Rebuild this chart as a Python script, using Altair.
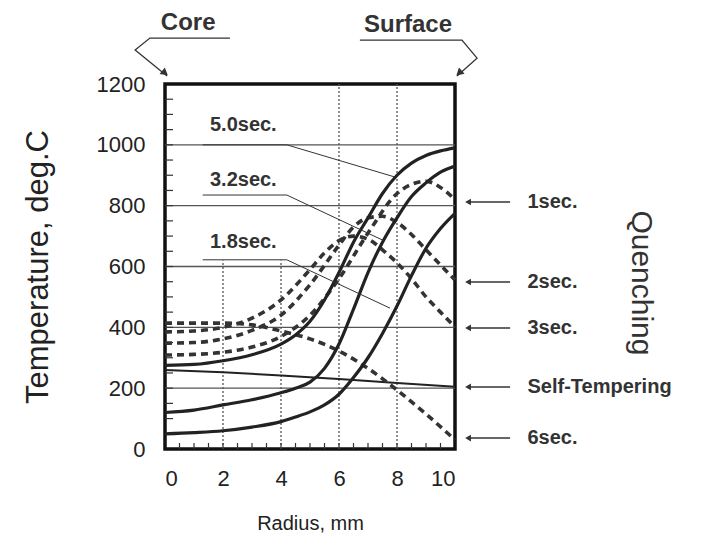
import altair as alt
import pandas as pd

# ---------------- data ----------------
# heating profiles (solid)
heat_x = [0, 1, 2, 3, 4, 4.5, 5, 5.5, 6, 6.5, 7, 7.5, 8, 8.5, 9, 9.5, 10]
heat_5_0 = [275, 278, 290, 310, 345, 375, 420, 490, 580, 680, 760, 840, 900, 940, 965, 980, 990]
heat_3_2 = [120, 128, 145, 162, 185, 200, 220, 265, 345, 460, 580, 680, 760, 830, 875, 910, 930]
heat_1_8 = [50, 54, 60, 72, 90, 105, 122, 145, 180, 235, 300, 380, 470, 570, 660, 725, 775]

# quenching profiles (dashed)
q1_x = [0, 1, 2, 3, 4, 5, 6, 7, 8, 8.5, 9, 9.5, 10]
q1_T = [309, 311, 318, 335, 370, 440, 560, 710, 840, 870, 880, 860, 820]
q2_x = [0, 1, 2, 3, 4, 5, 6, 6.5, 7, 7.5, 8, 8.5, 9, 9.5, 10]
q2_T = [348, 350, 362, 390, 440, 540, 670, 730, 760, 765, 745, 705, 655, 605, 556]
q3_x = [0, 1, 2, 3, 4, 5, 5.5, 6, 6.5, 7, 7.5, 8, 8.5, 9, 9.5, 10]
q3_T = [385, 388, 400, 430, 490, 590, 645, 685, 700, 690, 655, 612, 560, 500, 450, 401]
q6_x = [0, 1, 2, 3, 4, 5, 6, 7, 8, 9, 10]
q6_T = [414, 414, 414, 408, 388, 362, 322, 265, 194, 115, 30]

# self-tempering (thin solid)
st_x = [0, 2, 4, 6, 8, 10]
st_T = [260, 252, 242, 230, 217, 205]

# labels for heating curves with leader lines
heat_labels = ["5.0sec.", "3.2sec.", "1.8sec."]
heat_label_x = [1.55, 1.55, 1.55]
heat_label_T = [1066, 884, 680]
leader_x = [[1.3, 4.2, 7.9], [1.3, 4.2, 7.5], [1.3, 4.2, 7.76]]
leader_T = [[1000, 1000, 895], [835, 835, 687], [622, 622, 463]]

# right side quench labels
quench_labels = ["1sec.", "2sec.", "3sec.", "Self-Tempering", "6sec."]
quench_T = [812, 549, 398, 204, 36]

# ticks / grid
x_ticks = [0, 2, 4, 6, 8, 10]
y_ticks = [0, 200, 400, 600, 800, 1000, 1200]
grid_y = [200, 400, 600, 800, 1000]
grid_x = [2, 4, 6, 8]
grid_x_top = [620, 620, 1200, 1200]
minor_x = [i * 0.5 for i in range(1, 20)]
minor_y = [i * 50 for i in range(1, 24)]

# top "Core"/"Surface" brackets
core_x = [2.24, -0.52, -1.03, 0.07]
core_T = [1351, 1351, 1312, 1226]
surf_x = [6.72, 10.24, 10.76, 10.07]
surf_T = [1344, 1344, 1285, 1226]

FONT = "Liberation Sans"

xscale = alt.Scale(domain=[0, 10], nice=False, zero=False)
yscale = alt.Scale(domain=[0, 1200], nice=False, zero=False)
xaxis = alt.Axis(values=x_ticks, grid=False, ticks=False, domain=False, title="Radius, mm",
                 labelFontSize=22, labelPadding=19, titleFontSize=20, titlePadding=24,
                 titleFontWeight="normal", labelColor="#222", titleColor="#222", format="d")
yaxis = alt.Axis(values=y_ticks, grid=False, ticks=False, domain=False, title="Temperature, deg.C",
                 labelFontSize=22, labelPadding=20, titleFontSize=31, titlePadding=42,
                 titleFontWeight="normal", labelColor="#222", titleColor="#222", format="d")


def X(f):
    return alt.X(f"{f}:Q", scale=xscale, axis=xaxis)


def Y(f):
    return alt.Y(f"{f}:Q", scale=yscale, axis=yaxis)


def curve_df(xs, ts, name):
    return pd.DataFrame({"x": xs, "T": ts, "curve": name, "order": list(range(len(xs)))})


heat_df = pd.concat([curve_df(heat_x, heat_5_0, "5.0"),
                     curve_df(heat_x, heat_3_2, "3.2"),
                     curve_df(heat_x, heat_1_8, "1.8")])
quench_df = pd.concat([curve_df(q1_x, q1_T, "1"), curve_df(q2_x, q2_T, "2"),
                       curve_df(q3_x, q3_T, "3"), curve_df(q6_x, q6_T, "6")])
st_df = curve_df(st_x, st_T, "st")
leader_df = pd.concat([curve_df(leader_x[i], leader_T[i], heat_labels[i]) for i in range(3)])
bracket_df = pd.concat([curve_df(core_x, core_T, "core"), curve_df(surf_x, surf_T, "surf")])

gridh = alt.Chart(pd.DataFrame({"T": grid_y, "x0": [0] * 5, "x1": [10] * 5})).mark_rule(
    color="#555", strokeWidth=1.3).encode(y=Y("T"), x=X("x0"), x2="x1")
gridv = alt.Chart(pd.DataFrame({"x": grid_x, "T0": [0] * 4, "T1": grid_x_top})).mark_rule(
    color="#555", strokeWidth=1.3, strokeDash=[2, 2]).encode(x=X("x"), y=Y("T0"), y2="T1")
mticks_x = alt.Chart(pd.DataFrame({"x": minor_x})).mark_rule(color="#333", strokeWidth=1.2).encode(
    x=X("x"), y=alt.value(365), y2=alt.value(359))
mticks_y = alt.Chart(pd.DataFrame({"T": minor_y})).mark_rule(color="#333", strokeWidth=1.2).encode(
    y=Y("T"), x=alt.value(0), x2=alt.value(8))

heat = alt.Chart(heat_df).mark_line(interpolate="monotone", color="#222", strokeWidth=3.2).encode(
    x=X("x"), y=Y("T"), detail="curve:N", order="order:Q")
quench = alt.Chart(quench_df).mark_line(interpolate="monotone", color="#333", strokeWidth=3.6,
                                        strokeDash=[7, 5]).encode(
    x=X("x"), y=Y("T"), detail="curve:N", order="order:Q")
stl = alt.Chart(st_df).mark_line(interpolate="monotone", color="#222", strokeWidth=2).encode(
    x=X("x"), y=Y("T"), order="order:Q")
leaders = alt.Chart(leader_df).mark_line(color="#333", strokeWidth=1).encode(
    x=X("x"), y=Y("T"), detail="curve:N", order="order:Q")
hlabels = alt.Chart(pd.DataFrame({"x": heat_label_x, "T": heat_label_T, "t": heat_labels})).mark_text(
    align="left", baseline="middle", font=FONT, fontSize=20, fontWeight="bold", color="#333").encode(
    x=X("x"), y=Y("T"), text="t:N")

qdf = pd.DataFrame({"T": quench_T, "x0": [10.45] * 5, "x1": [11.9] * 5, "xl": [12.5] * 5,
                    "t": quench_labels})
qarrows = alt.Chart(qdf).mark_rule(color="#333", strokeWidth=1.5).encode(y=Y("T"), x=X("x0"), x2="x1")
qheads = alt.Chart(qdf).mark_point(shape="triangle-left", filled=True, size=45, color="#333",
                                   opacity=1).encode(y=Y("T"), x=X("x0"))
qlabels = alt.Chart(qdf).mark_text(align="left", baseline="middle", font=FONT, fontSize=20,
                                   fontWeight="bold", color="#333").encode(y=Y("T"), x=X("xl"), text="t:N")
quenching = alt.Chart(pd.DataFrame({"x": [16.4], "T": [546], "t": ["Quenching"]})).mark_text(
    angle=90, align="center", baseline="middle", font=FONT, fontSize=30, color="#333").encode(
    x=X("x"), y=Y("T"), text="t:N")

top_df = pd.DataFrame({"x": [0.8, 8.38], "T": [1400, 1394], "t": ["Core", "Surface"]})
toplabels = alt.Chart(top_df).mark_text(align="center", baseline="middle", font=FONT, fontSize=24,
                                        fontWeight="bold", color="#333").encode(
    x=X("x"), y=Y("T"), text="t:N")
brackets = alt.Chart(bracket_df).mark_line(color="#333", strokeWidth=1.3).encode(
    x=X("x"), y=Y("T"), detail="curve:N", order="order:Q")
bheads = alt.Chart(pd.DataFrame({"x": [0.0, 10.14], "T": [1236, 1236], "a": [129, 228]})).mark_point(
    shape="triangle-up", filled=True, size=70, color="#333", opacity=1).encode(
    x=X("x"), y=Y("T"), angle=alt.Angle("a:Q", scale=None))

chart = alt.layer(
    gridh, gridv, mticks_x, mticks_y, stl, quench, heat, leaders, hlabels,
    qarrows, qheads, qlabels, quenching, toplabels, brackets, bheads
).properties(
    width=290, height=365,
    padding={"left": 157, "top": 76, "right": 238, "bottom": 89},
    autosize=alt.AutoSizeParams(type="none"),
    background="white",
).configure_view(
    stroke="#111", strokeWidth=3.5
).configure_text(font=FONT).configure_axis(labelFont=FONT, titleFont=FONT)

chart.save("out.html", embed_options={"renderer": "svg", "actions": False})
